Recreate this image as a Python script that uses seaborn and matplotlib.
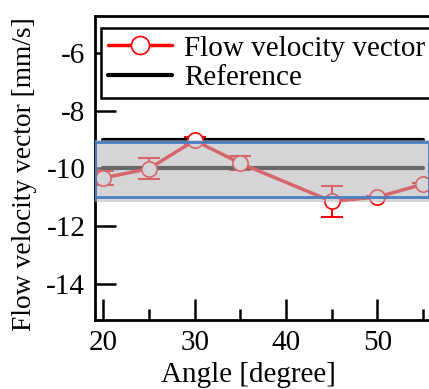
import numpy as np
import pandas as pd
import matplotlib
matplotlib.use("Agg")
import matplotlib.pyplot as plt
import seaborn as sns
from matplotlib.patches import Rectangle
from matplotlib.lines import Line2D
from matplotlib.ticker import MultipleLocator

angles = [20, 25, 30, 35, 45, 50, 55]
velocity = [-10.33, -10.01, -9.03, -9.82, -11.14, -10.99, -10.55]
errors = [0.23, 0.36, 0.12, 0.25, 0.54, 0.05, 0.05]
ref_x = [20, 55]
ref_y = [-10, -10]
upper_y = [-9, -9]
band_low, band_high = -11.17, -9.0

sns.set_theme(style="ticks")
plt.rcParams["font.family"] = ["Liberation Serif", "DejaVu Serif"]
plt.rcParams["axes.unicode_minus"] = False

FS = 21

fig = plt.figure(figsize=(4.29, 3.89), dpi=100)
ax = fig.add_axes([95/429, 1-320/389, 360/429, (320-16)/389])

df = pd.DataFrame({"angle": angles, "v": velocity})
ax.errorbar(angles, velocity, yerr=errors, fmt="none", ecolor="#ff0000",
            elinewidth=1.5, capsize=8, capthick=1.5, zorder=2)
sns.lineplot(data=df, x="angle", y="v", ax=ax, color="#ff0000", lw=2.5,
             marker="o", markersize=11, markerfacecolor="white",
             markeredgecolor="#ff0000", markeredgewidth=1.2, zorder=3)
sns.lineplot(x=ref_x, y=ref_y, ax=ax, color="black", lw=3, zorder=2)
sns.lineplot(x=ref_x, y=upper_y, ax=ax, color="black", lw=3, zorder=2)

# translucent band
ax.add_patch(Rectangle((19.1, band_low), 55.6 - 19.1, band_high - band_low,
                       facecolor="#b6b6bc", alpha=0.57, edgecolor="none", zorder=4))
ax.add_patch(Rectangle((19.1, -11.0), 55.6 - 19.1, 1.93,
                       facecolor="none", edgecolor="#4a7ec0", lw=2, zorder=5))

ax.set_xlim(19.1, 58.5)
ax.set_ylim(-15.25, -4.72)
ax.set_xticks([20, 30, 40, 50])
ax.xaxis.set_minor_locator(MultipleLocator(5))
ax.set_yticks([-6, -8, -10, -12, -14])
ax.tick_params(axis="both", which="major", direction="in", length=15, width=1.8,
               labelsize=FS, color="black", labelcolor="black", pad=7)
ax.tick_params(axis="x", which="minor", direction="in", length=8, width=1.8,
               color="black")
for s in ["left", "bottom", "top"]:
    ax.spines[s].set_color("black")
    ax.spines[s].set_linewidth(2)
ax.spines["right"].set_visible(False)

ax.set_xlabel("Angle [degree]", fontsize=FS, color="black")
ax.set_ylabel("Flow velocity vector [mm/s]", fontsize=19.8, color="black")
ax.xaxis.set_label_coords((248 - 95) / 360, (320 - 388) / 304, transform=ax.transAxes)
ax.xaxis.label.set_va("bottom")
ax.yaxis.set_label_coords((25 - 95) / 360, (320 - 174) / 304, transform=ax.transAxes)
ax.yaxis.label.set_va("center")

handles = [Line2D([], [], color="#ff0000", lw=2.5, marker="o", markersize=13,
                  markerfacecolor="white", markeredgecolor="#ff0000", markeredgewidth=1.2),
           Line2D([], [], color="black", lw=3)]
leg = ax.legend(handles, ["Flow velocity vector", "Reference"],
                loc="upper left", bbox_to_anchor=(101/429, 1-28/389),
                bbox_transform=fig.transFigure, fontsize=FS, frameon=True,
                fancybox=False, edgecolor="black", framealpha=1,
                handlelength=2.2, handletextpad=0.4, borderpad=0.25,
                labelspacing=0.1, borderaxespad=0)
leg.get_frame().set_linewidth(1.8)
for t in leg.get_texts():
    t.set_color("black")

fig.savefig("out.png", dpi=100)
